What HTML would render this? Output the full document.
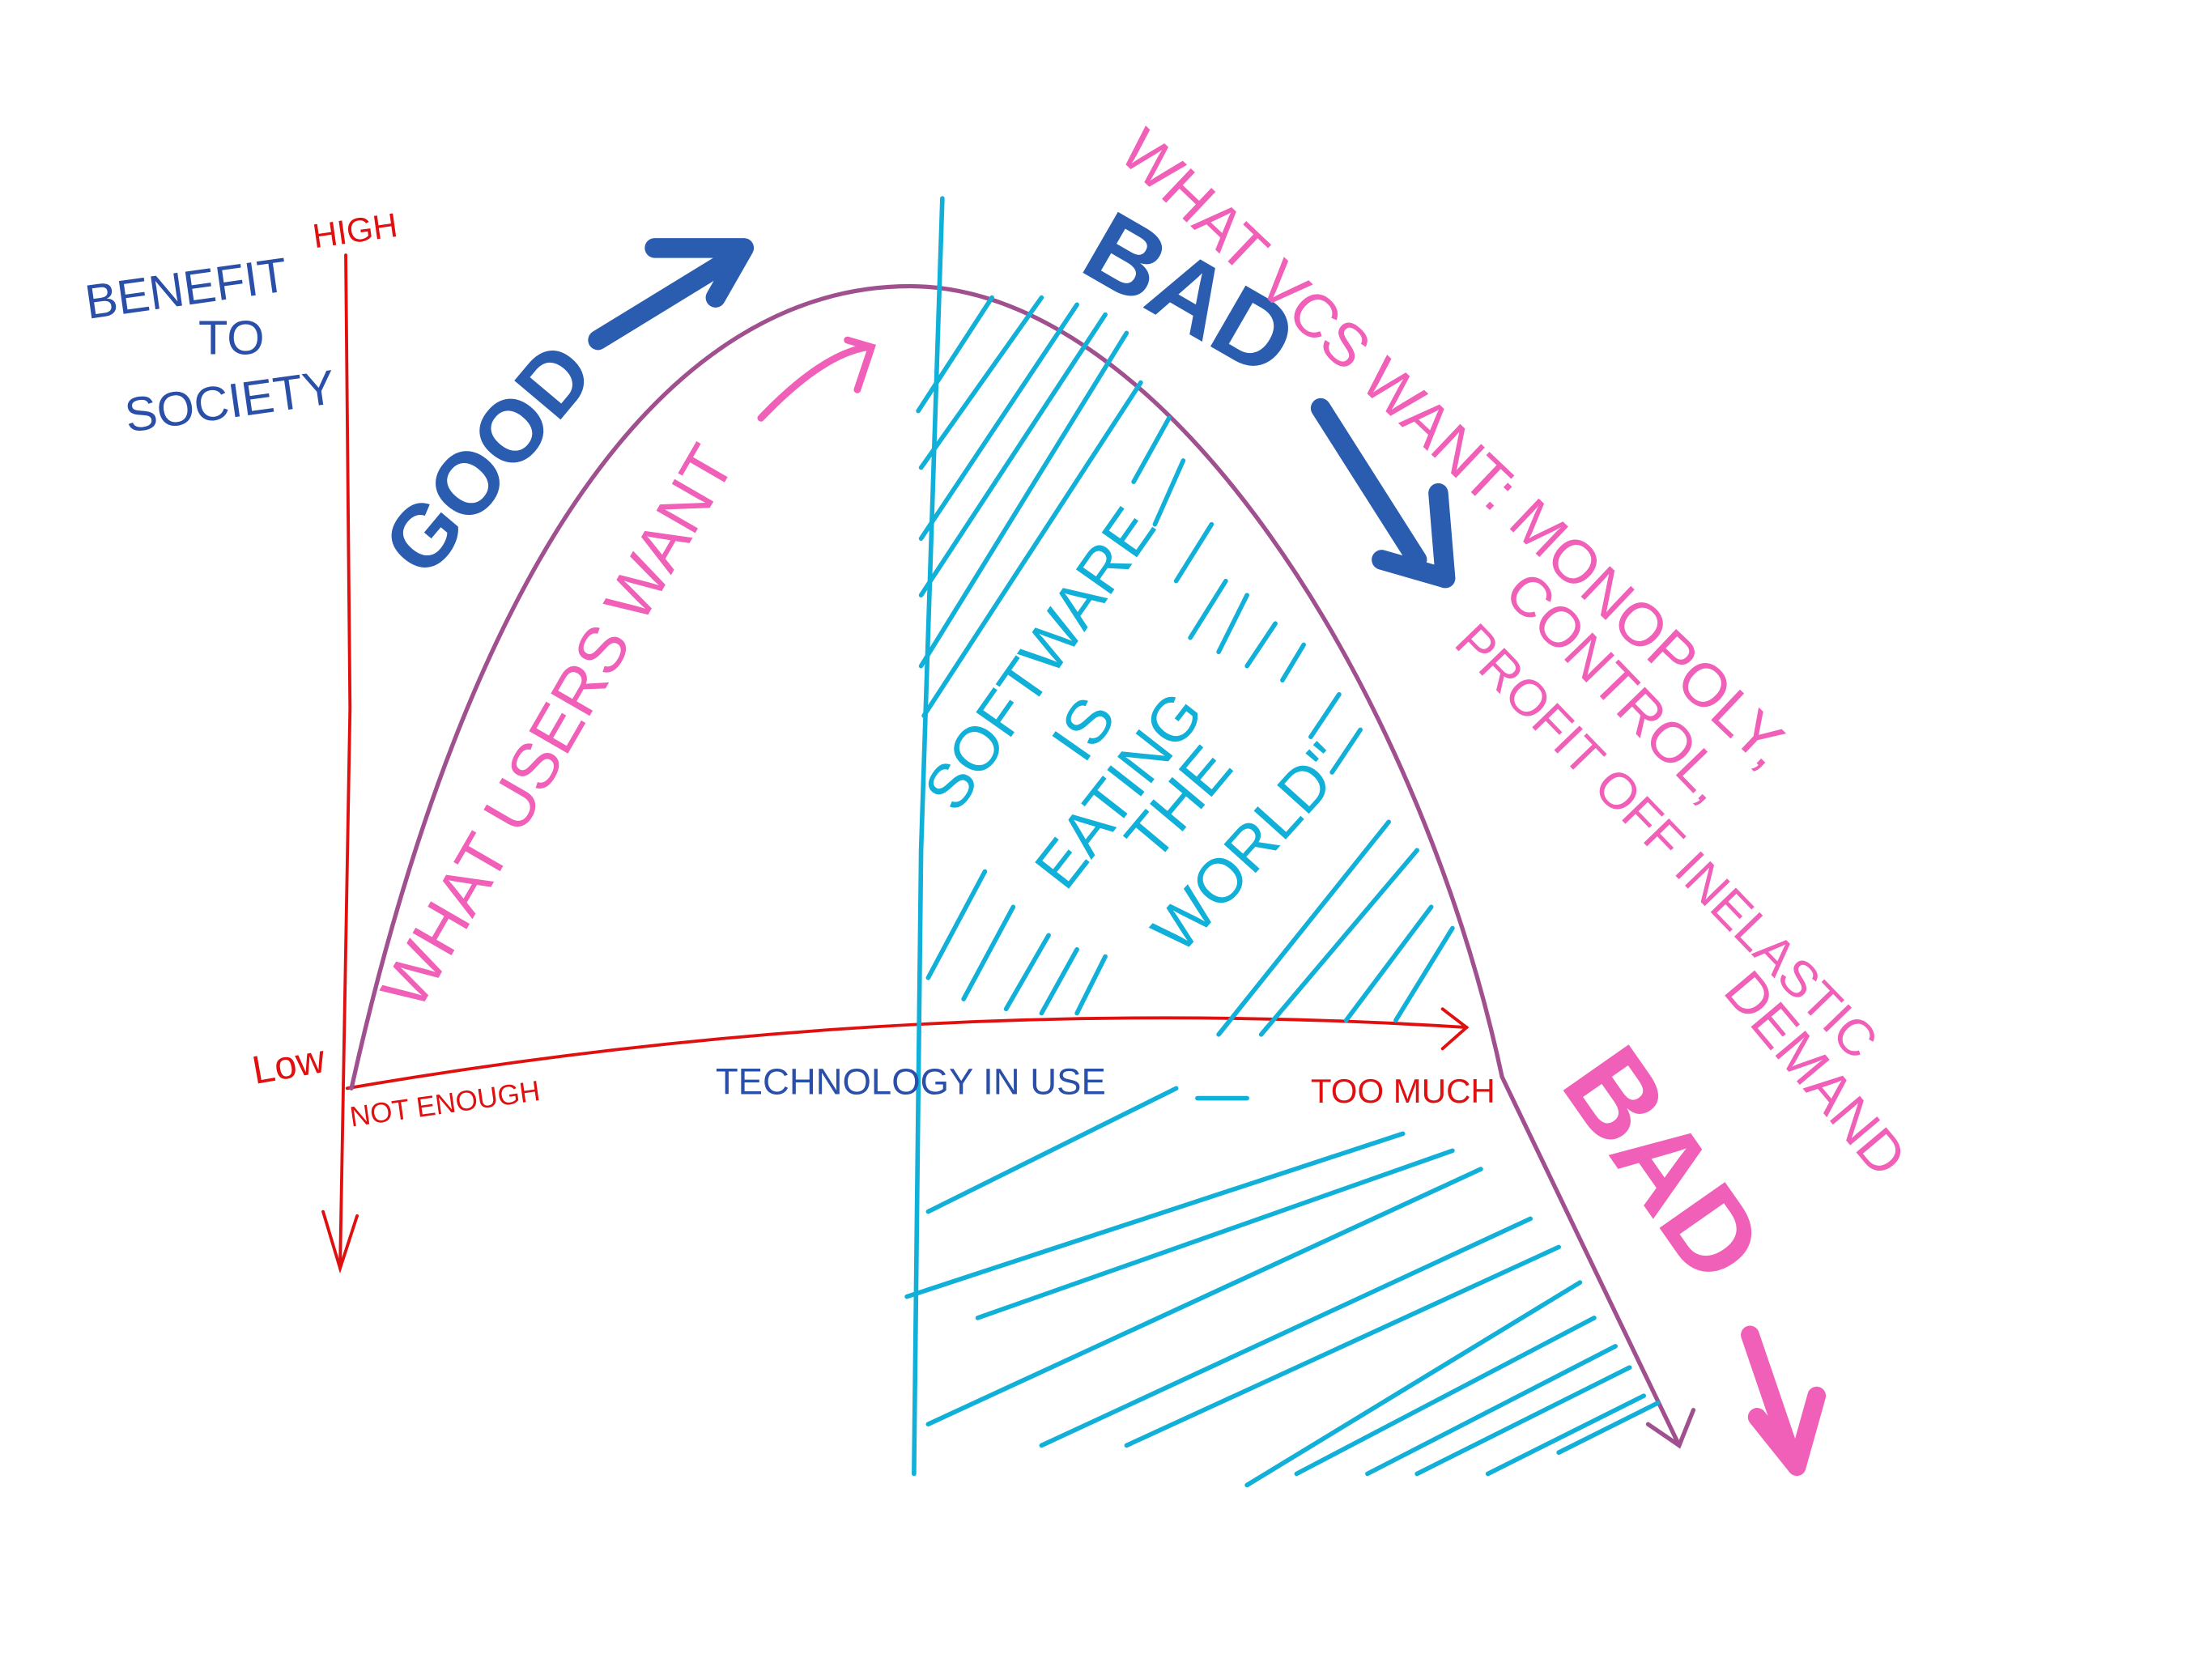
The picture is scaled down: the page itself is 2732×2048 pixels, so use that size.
<!DOCTYPE html>
<html><head><meta charset="utf-8"><style>
html,body{margin:0;padding:0;background:#fff;}
svg{display:block}
text{font-family:"Liberation Sans",sans-serif;}
</style></head><body>
<svg width="2732" height="2048" viewBox="0 0 1561 1170" preserveAspectRatio="none" xmlns="http://www.w3.org/2000/svg">
<rect width="1561" height="1170" fill="#fff"/>
<g stroke="#e01010" stroke-width="2.2" fill="none" stroke-linecap="round">
<path d="M244,180 L247,500 L240,895"/>
<path d="M228,855 L240,895 L252,858"/>
<path d="M245,768 Q640,700 1035,725"/>
<path d="M1018,712 L1035,725 L1018,740"/>
</g>
<g stroke="#a0508e" stroke-width="3" fill="none" stroke-linecap="round">
<path d="M248,768 C330,400 470,200 645,202 C820,205 1000,480 1060,760 L1185,1020"/>
<path d="M1163,1005 L1185,1020 L1195,995"/>
</g>
<g stroke="#10b0d8" stroke-width="3.2" fill="none" stroke-linecap="round">
<path d="M665,140 L650,600 L645,1040"/>
<path d="M648,290 L700,210"/><path d="M650,330 L735,210"/><path d="M650,380 L760,215"/>
<path d="M650,420 L780,222"/><path d="M650,470 L795,235"/><path d="M652,505 L805,270"/>
<path d="M800,340 L825,295"/><path d="M815,370 L835,325"/><path d="M830,410 L855,370"/>
<path d="M840,450 L865,410"/><path d="M860,460 L880,420"/><path d="M880,470 L900,440"/>
<path d="M905,480 L920,455"/><path d="M925,520 L945,490"/><path d="M940,545 L960,515"/>
<path d="M860,730 L980,580"/><path d="M890,730 L1000,600"/><path d="M950,720 L1010,640"/><path d="M985,720 L1025,655"/>
<path d="M655,690 L695,615"/><path d="M680,705 L715,640"/><path d="M710,712 L740,660"/><path d="M735,715 L760,670"/><path d="M760,715 L780,675"/>
<path d="M655,855 L830,768"/><path d="M845,775 L880,775"/>
<path d="M640,915 L990,800"/><path d="M690,930 L1025,812"/><path d="M655,1005 L1045,825"/>
<path d="M735,1020 L1080,860"/><path d="M795,1020 L1100,880"/><path d="M880,1048 L1115,905"/>
<path d="M915,1040 L1125,930"/><path d="M965,1040 L1140,950"/><path d="M1000,1040 L1150,965"/>
<path d="M1050,1040 L1160,985"/><path d="M1100,1025 L1170,990"/>
</g>
<g fill="#2a4fa8" font-size="34">
<text x="62" y="225" transform="rotate(-8 62 225)">BENEFIT</text>
<text x="140" y="250">TO</text>
<text x="90" y="305" transform="rotate(-8 90 305)">SOCIETY</text>
<text x="505" y="772" font-size="26">TECHNOLOGY IN USE</text>
</g>
<g fill="#e01010">
<text x="222" y="175" font-size="24" transform="rotate(-8 222 175)">HIGH</text>
<text x="180" y="765" font-size="28" transform="rotate(-10 180 765)">Low</text>
<text x="248" y="795" font-size="20" transform="rotate(-8 248 795)">NOT ENOUGH</text>
<text x="925" y="778" font-size="24">TOO MUCH</text>
</g>
<text x="300" y="410" font-size="62" font-weight="bold" fill="#2a5db0" transform="rotate(-50 300 410)">GOOD</text>
<g stroke="#2a5db0" stroke-width="14" fill="none" stroke-linecap="round" stroke-linejoin="round">
<path d="M422,240 L520,180"/><path d="M462,175 L525,175 L505,210"/>
<path d="M932,288 L1000,395"/><path d="M975,395 L1020,408 L1015,348"/>
</g>
<text x="760" y="190" font-size="72" font-weight="bold" fill="#2a5db0" transform="rotate(30 760 190)">BAD</text>
<text x="295" y="715" font-size="46" fill="#f060b8" transform="rotate(-60 295 715)">WHAT USERS WANT</text>
<g stroke="#f060b8" stroke-width="5" fill="none" stroke-linecap="round">
<path d="M537,295 Q580,250 612,245"/><path d="M598,240 L615,245 L605,275"/>
</g>
<g fill="#f060b8" font-size="40">
<text x="788" y="110" transform="rotate(43.5 788 110)" font-size="43">WHAT VCS WANT: MONOPOLY,</text>
<text x="1060" y="420" transform="rotate(46 1060 420)">CONTROL,</text>
<text x="1025" y="455" transform="rotate(46 1025 455)" font-size="36">PROFIT OFF INELASTIC</text>
<text x="1215" y="700" transform="rotate(50 1215 700)">DEMAND</text>
</g>
<text x="1100" y="765" font-size="82" font-weight="bold" fill="#f060b8" transform="rotate(55 1100 765)">BAD</text>
<g stroke="#f060b8" stroke-width="13" fill="none" stroke-linecap="round" stroke-linejoin="round">
<path d="M1235,942 L1265,1030"/><path d="M1240,1000 L1268,1035 L1282,985"/>
</g>
<g fill="#10b0d8" font-size="44">
<text x="675" y="575" transform="rotate(-55 675 575)">SOFTWARE</text>
<text x="765" y="540" transform="rotate(-55 765 540)">IS</text>
<text x="752" y="630" transform="rotate(-52 752 630)">EATING</text>
<text x="815" y="610" transform="rotate(-50 815 610)">THE</text>
<text x="833" y="675" transform="rotate(-48 833 675)">WORLD"</text>
</g>
</svg>
</body></html>
